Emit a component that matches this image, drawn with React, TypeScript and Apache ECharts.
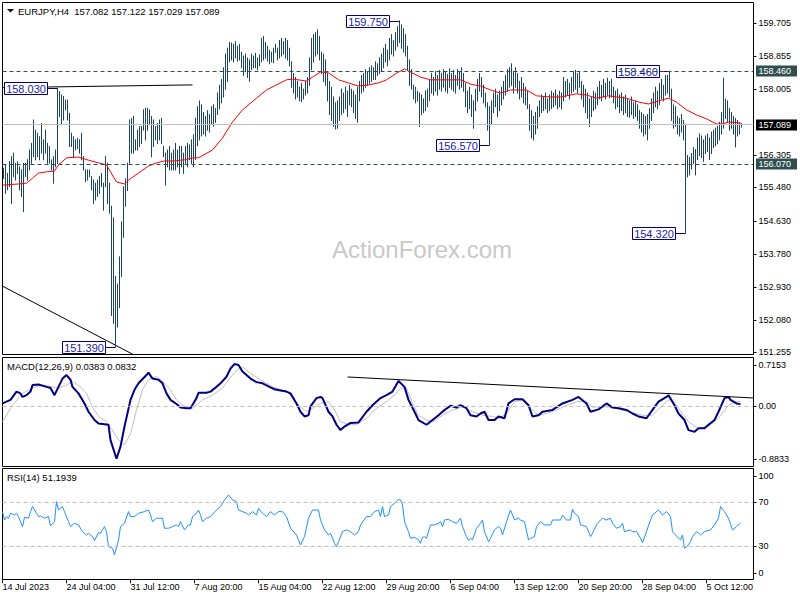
import React, { useEffect, useRef } from "react";
import * as echarts from "echarts";

const FONT = 'Tahoma, "Liberation Sans", Arial, sans-serif';
const BAR_COLOR = "#1b4560";

// ---- price bars (H4) ----
const highs = [
  155.97,156.06,155.84,156.14,156.27,156.36,156.10,156.14,156.01,155.93,
  156.10,156.10,156.19,156.44,156.61,157.21,156.95,156.87,156.78,157.12,
  156.70,156.95,156.61,156.53,156.19,156.27,156.44,158.03,157.94,157.85,
  157.81,157.72,157.72,157.38,156.87,156.78,156.70,156.74,156.70,156.87,
  156.27,155.93,155.93,155.93,155.76,155.67,155.59,155.67,155.76,155.84,
  155.59,156.27,156.10,155.59,155.00,154.70,153.20,153.00,153.70,154.60,
  155.50,155.70,156.10,157.21,157.25,157.30,156.70,156.95,157.04,157.04,
  157.47,157.51,157.51,157.47,157.30,157.21,157.04,157.12,157.21,157.25,
  156.53,156.36,156.44,156.53,156.36,156.44,156.61,156.44,156.53,156.53,
  156.36,156.53,156.61,156.57,156.70,156.83,157.25,157.55,157.70,157.60,
  157.40,157.30,157.45,157.35,157.55,157.60,157.50,157.90,158.10,158.25,
  158.55,158.90,159.05,159.20,159.18,159.15,159.22,159.10,159.15,158.95,
  158.85,158.90,158.80,158.75,158.90,158.85,158.92,158.80,158.88,159.30,
  159.35,159.20,159.10,159.00,158.95,159.05,159.15,159.05,159.25,159.30,
  159.22,159.30,159.25,159.05,158.70,158.40,158.30,158.20,158.05,158.15,
  158.00,158.20,158.30,158.80,159.30,159.40,159.45,159.52,159.35,158.95,
  158.90,158.75,158.40,158.20,158.05,157.80,157.65,157.70,157.80,158.00,
  157.90,158.05,157.95,158.10,158.00,157.95,157.85,158.05,158.20,158.35,
  158.40,158.50,158.45,158.55,158.60,158.55,158.70,158.65,158.80,158.90,
  159.05,159.15,159.00,159.30,159.40,159.25,159.45,159.60,159.75,159.65,
  159.55,159.40,159.10,158.75,158.50,158.10,158.05,157.95,157.90,157.85,
  157.75,157.95,158.00,158.25,158.40,158.30,158.45,158.35,158.48,158.40,
  158.50,158.45,158.38,158.52,158.40,158.48,158.35,158.50,158.45,158.55,
  158.40,158.15,157.95,158.05,157.85,157.70,158.00,158.25,158.40,158.30,
  158.10,157.90,157.65,157.55,157.70,157.90,158.00,157.85,157.95,158.05,
  158.20,158.35,158.50,158.55,158.65,158.45,158.55,158.40,158.20,158.30,
  158.15,158.05,157.95,157.60,157.45,157.30,157.40,157.55,157.70,157.85,
  157.80,157.90,157.75,157.85,157.95,157.90,157.98,157.85,157.95,157.90,
  158.30,158.20,158.25,158.15,158.30,158.45,158.48,158.40,158.45,158.20,
  158.10,158.00,157.90,157.75,157.80,157.95,157.90,158.05,158.20,158.10,
  158.25,158.15,158.28,158.20,158.25,158.05,157.95,158.00,157.85,157.90,
  157.80,157.85,157.75,157.70,157.80,157.65,157.70,157.60,157.45,157.40,
  157.35,157.30,157.35,157.50,157.75,157.90,158.05,157.95,158.15,158.25,
  158.10,158.35,158.35,158.46,158.00,157.60,157.55,157.30,157.25,157.35,
  157.20,157.10,156.30,156.25,156.35,156.50,156.45,156.75,156.85,156.80,
  156.70,156.80,156.85,156.75,156.90,156.95,157.00,157.05,157.15,157.40,
  158.28,157.75,157.70,157.50,157.40,157.30,157.25,157.20,157.15,157.12,
];
const lows = [
  155.71,155.33,155.42,155.50,155.07,155.76,155.67,155.84,155.42,155.25,
  154.86,155.76,155.67,155.93,156.10,156.27,156.19,156.27,156.19,156.36,
  156.19,156.36,156.10,156.10,155.93,155.59,156.01,156.10,157.30,157.12,
  157.21,157.47,157.21,156.53,156.53,156.27,156.44,156.48,156.36,156.19,
  155.93,155.63,155.67,155.76,155.42,155.07,155.16,155.25,155.33,155.50,
  154.90,155.50,155.07,154.82,152.20,152.00,151.39,151.90,152.40,153.20,
  154.20,155.00,155.40,156.10,156.36,156.36,156.44,156.44,156.53,156.61,
  156.95,156.70,156.95,157.12,156.27,156.53,156.70,156.61,156.70,156.61,
  156.27,155.54,156.01,155.93,155.93,155.93,155.93,156.01,155.84,156.01,
  155.84,156.10,156.01,156.19,156.10,156.01,156.20,156.55,156.70,156.80,
  156.85,156.80,156.95,156.90,157.10,157.05,157.15,157.35,157.50,157.65,
  157.80,158.00,158.20,158.70,158.75,158.70,158.80,158.72,158.75,158.55,
  158.35,158.45,158.30,158.20,158.50,158.55,158.55,158.50,158.60,158.70,
  158.75,158.80,158.72,158.65,158.70,158.68,158.95,158.75,158.80,158.85,
  158.90,158.80,158.75,158.60,158.05,157.90,157.75,157.80,157.70,157.68,
  157.75,157.85,157.90,158.10,158.50,158.70,158.85,158.90,158.75,158.40,
  158.20,158.10,157.70,157.35,157.20,157.05,156.98,157.00,157.20,157.35,
  157.40,157.50,157.30,157.60,157.55,157.40,157.25,157.15,157.70,157.90,
  157.95,158.05,158.10,158.15,158.20,158.25,158.25,158.35,158.40,158.45,
  158.55,158.70,158.60,158.75,158.90,158.85,159.00,159.10,159.20,159.05,
  158.95,158.85,158.50,158.10,158.00,157.75,157.65,157.70,157.05,157.35,
  157.40,157.45,157.55,157.70,157.90,157.85,157.95,157.85,158.00,157.95,
  158.05,157.95,157.90,158.05,158.00,157.95,157.90,158.10,158.00,158.05,
  157.95,157.55,157.40,157.50,157.30,157.00,157.45,157.70,157.95,157.80,
  157.65,157.55,156.95,156.57,157.10,157.40,157.55,157.30,157.45,157.60,
  157.75,157.85,157.95,158.05,158.10,157.90,158.05,157.90,157.75,157.80,
  157.65,157.60,157.50,156.95,156.75,156.70,156.85,157.00,157.30,157.40,
  157.45,157.50,157.40,157.45,157.50,157.55,157.60,157.50,157.55,157.50,
  157.70,157.80,157.85,157.75,157.90,157.95,158.00,157.90,158.05,157.75,
  157.55,157.40,157.25,157.05,157.30,157.45,157.50,157.60,157.75,157.70,
  157.80,157.75,157.85,157.78,157.80,157.65,157.50,157.55,157.40,157.45,
  157.35,157.40,157.30,157.28,157.35,157.25,157.30,157.20,157.00,156.90,
  156.80,156.85,156.70,157.00,157.20,157.40,157.55,157.50,157.60,157.75,
  157.70,157.85,157.90,157.80,157.20,157.00,157.05,156.85,156.80,156.90,
  156.70,154.32,155.75,155.80,155.95,156.10,155.80,156.20,156.30,156.25,
  156.15,156.35,156.40,156.20,156.35,156.50,156.55,156.60,156.70,156.85,
  157.00,157.25,157.15,156.95,157.00,156.85,156.52,156.80,156.85,157.03,
];

// moving average (red), [bar index, price]
const maPoints = [
  [0,155.54],[8,155.57],[12,155.59],[15,155.72],[18,155.85],[22,155.88],[26,155.90],[28,156.06],[32,156.24],[38,156.26],
  [43,156.18],[48,156.11],[52,156.06],[54,155.88],[57,155.62],[61,155.57],[63,155.67],[68,155.85],[73,156.03],[77,156.11],
  [81,156.16],[86,156.16],[91,156.19],[95,156.24],[98,156.24],[105,156.44],[110,156.75],[115,157.16],[120,157.47],[127,157.77],
  [132,157.98],[137,158.11],[142,158.24],[145,158.26],[152,158.21],[155,158.31],[159,158.44],[163,158.42],[168,158.24],[173,158.16],
  [178,158.08],[183,158.11],[188,158.16],[192,158.24],[197,158.41],[201,158.52],[204,158.44],[209,158.31],[214,158.24],[219,158.24],
  [224,158.24],[229,158.24],[234,158.13],[239,158.08],[244,157.98],[249,157.90],[254,157.98],[259,157.98],[262,157.98],[267,157.83],
  [274,157.80],[279,157.80],[287,157.88],[292,157.85],[297,157.77],[303,157.83],[312,157.77],[318,157.67],[323,157.62],[328,157.70],
  [333,157.77],[337,157.67],[342,157.47],[347,157.34],[352,157.24],[357,157.11],[360,157.11],[363,157.16],[369,157.13],
];

// MACD(12,26,9): main line and signal, [bar index, value]
const macdPoints = [
  [0,0.05],[4,0.11],[7,0.25],[9,0.22],[10,0.16],[12,0.19],[14,0.25],[15,0.36],[18,0.37],[22,0.33],[24,0.31],[26,0.19],
  [28,0.33],[30,0.47],[32,0.53],[34,0.45],[35,0.33],[38,0.22],[41,0.05],[43,-0.09],[46,-0.23],[48,-0.29],[51,-0.30],[53,-0.31],
  [54,-0.57],[57,-0.8833],[59,-0.68],[61,-0.34],[64,0.11],[66,0.28],[68,0.39],[72,0.53],[73,0.57],[75,0.47],[78,0.45],[80,0.39],
  [82,0.22],[84,0.11],[87,0.04],[89,-0.02],[92,-0.03],[94,-0.03],[97,0.14],[98,0.23],[102,0.23],[104,0.25],[107,0.33],[109,0.39],
  [112,0.50],[114,0.64],[116,0.7153],[118,0.70],[120,0.59],[124,0.47],[127,0.41],[130,0.39],[134,0.32],[136,0.29],[139,0.27],[142,0.25],
  [144,0.22],[147,0.05],[149,-0.09],[151,-0.17],[153,-0.15],[154,0.00],[157,0.14],[159,0.16],[160,0.14],[163,-0.09],[165,-0.17],[167,-0.31],
  [169,-0.40],[171,-0.34],[174,-0.28],[178,-0.27],[182,-0.09],[185,0.02],[189,0.14],[192,0.19],[195,0.25],[198,0.43],[201,0.33],[203,0.11],
  [206,-0.09],[208,-0.23],[212,-0.31],[215,-0.23],[218,-0.15],[221,-0.06],[224,0.01],[227,-0.02],[229,0.02],[232,-0.03],[234,-0.15],[237,-0.17],
  [239,-0.12],[241,-0.09],[243,-0.23],[246,-0.23],[248,-0.17],[251,-0.20],[253,0.05],[256,0.12],[260,0.12],[263,0.02],[265,-0.17],[268,-0.15],
  [270,-0.09],[275,-0.06],[280,0.05],[285,0.11],[288,0.16],[292,0.05],[294,-0.09],[298,-0.05],[302,0.05],[305,-0.02],[308,-0.03],[312,-0.06],
  [315,-0.12],[318,-0.17],[322,-0.20],[325,-0.06],[328,0.08],[332,0.16],[333,0.19],[336,0.02],[338,-0.12],[341,-0.23],[343,-0.40],[346,-0.43],
  [348,-0.37],[351,-0.37],[353,-0.31],[356,-0.23],[358,-0.09],[361,0.14],[363,0.16],[364,0.11],[367,0.05],[369,0.0383],
];
const signalPoints = [
  [0,-0.26],[5,0.02],[10,0.22],[15,0.31],[20,0.36],[25,0.33],[28,0.31],[32,0.36],[35,0.42],[38,0.36],[42,0.22],[45,-0.01],
  [48,-0.17],[52,-0.26],[55,-0.40],[58,-0.57],[61,-0.65],[64,-0.46],[67,-0.06],[70,0.28],[73,0.45],[77,0.51],[80,0.42],[84,0.28],
  [87,0.11],[90,0.02],[95,-0.03],[100,0.11],[105,0.19],[110,0.31],[115,0.53],[118,0.64],[120,0.67],[124,0.56],[129,0.45],[135,0.33],
  [142,0.25],[145,0.16],[148,0.02],[152,-0.09],[155,-0.03],[159,0.05],[163,0.08],[166,-0.06],[169,-0.26],[173,-0.31],[177,-0.31],[182,-0.20],
  [187,-0.03],[192,0.08],[197,0.22],[199,0.31],[202,0.31],[205,0.05],[208,-0.15],[212,-0.23],[215,-0.26],[220,-0.15],[225,-0.06],[230,-0.01],
  [235,-0.09],[240,-0.15],[245,-0.17],[248,-0.20],[252,-0.12],[256,0.08],[260,0.11],[264,-0.03],[268,-0.15],[272,-0.12],[277,-0.06],[282,0.02],
  [287,0.08],[292,0.08],[295,-0.01],[300,-0.01],[305,-0.01],[310,-0.06],[315,-0.11],[320,-0.15],[325,-0.15],[330,0.02],[333,0.11],[335,0.11],
  [338,-0.03],[343,-0.26],[348,-0.37],[353,-0.34],[358,-0.20],[363,0.02],[367,0.08],[369,0.0832],
];

// RSI(14), [bar index, value]
const rsiPoints = [
  [0,61.5],[1,53.9],[2,57],[3,55.5],[4,60],[6,58.5],[7,60],[8,57],[9,52.4],[10,47.9],[11,56.4],[13,55.5],[14,61.5],[15,66.1],
  [17,60],[18,57],[19,57.6],[21,55.5],[23,57],[24,48.5],[26,52.4],[27,70.6],[28,63],[30,66.1],[31,61.5],[33,52.4],[34,47.9],[36,50.9],
  [38,49.4],[40,43.3],[42,40.3],[43,41.8],[45,38.8],[46,35.2],[48,42.4],[49,41.8],[51,47.9],[52,43.3],[53,29.7],[55,28.2],[56,22.1],[58,35.8],
  [59,47.9],[61,50.9],[63,61.5],[64,57],[66,57],[68,60],[71,61.5],[73,63],[74,58.5],[75,52.4],[77,55.5],[80,55.5],[81,46.4],[83,46.4],
  [85,47.9],[87,49.4],[88,47.9],[89,52.4],[91,44.9],[93,49.4],[94,49.4],[95,57],[97,60],[98,63],[99,58.5],[100,52.4],[102,55.5],[104,57],
  [107,63],[109,66.1],[111,72.1],[113,76.7],[115,72.1],[117,70.6],[118,63],[122,60],[123,58.5],[125,61.5],[127,58.5],[128,64.5],[130,60],[132,57],
  [134,61.5],[136,58.5],[138,61.5],[140,61.5],[142,57],[144,46.4],[147,40.3],[149,31.2],[151,38.8],[153,55.5],[155,63],[158,63],[159,54],[161,44.9],
  [163,40.3],[164,41.8],[166,32.7],[167,29.7],[168,34.2],[170,43.3],[172,44.9],[174,43.3],[176,40.3],[178,43.3],[179,49.4],[182,57],[184,57],[186,61.5],
  [188,63],[189,57],[190,66.1],[191,57],[193,58.5],[194,66.1],[197,70.6],[198,72.7],[199,72.1],[200,67.6],[201,52.4],[203,43.3],[204,37.3],[206,38.2],
  [208,35.8],[209,32.7],[210,38.2],[211,38.8],[212,37.3],[214,49.4],[216,49.4],[218,50.9],[219,52.4],[220,47.9],[221,53.9],[223,54.5],[225,52.4],[227,50.9],
  [229,55.5],[230,47.9],[232,38.8],[233,35.2],[234,37.3],[235,35.8],[237,46.4],[239,50.9],[240,53.9],[241,43.3],[243,34.2],[244,37.3],[246,44.9],[248,47.9],
  [249,46.4],[250,40.3],[252,52.4],[254,63],[255,58.5],[256,53.9],[258,55.5],[259,53.9],[261,52.4],[263,35.8],[264,37.3],[266,38.8],[267,47.9],[269,52.4],
  [271,49.4],[274,49.4],[275,53.9],[279,53.9],[280,58.5],[282,53.9],[284,53.9],[285,63.6],[286,60],[288,57],[289,49.4],[292,47.9],[294,38.8],[295,41.8],
  [297,49.4],[299,53.9],[300,55.5],[302,53.9],[304,55.5],[305,50.9],[307,46.4],[309,47.9],[310,50.9],[311,43.3],[314,44.9],[315,43.3],[317,43.3],[319,37.3],
  [320,33.3],[322,43.3],[324,53.9],[325,58.5],[328,63],[330,58.5],[332,61.5],[334,57],[335,43.3],[338,37.3],[339,35.8],[340,40.3],[341,28.2],[343,31.2],
  [344,34.2],[345,38.8],[347,43.3],[348,41.8],[349,40.3],[351,43.3],[354,44.9],[356,49.4],[358,55.5],[359,66.1],[361,61.5],[363,55.5],[365,44.9],[367,47.9],
  [369,51.1939],
];

// axis ticks and labels (157.155 lies hidden behind the bid label in the reference)
const priceTicks = [159.705, 158.855, 158.005, 156.305, 155.48, 154.63, 153.78, 152.93, 152.08, 151.255];
const macdTicks = [0.7153, 0, -0.8833];
const macdTickLabels = ["0.7153", "0.00", "-0.8833"];
const rsiTicks = [100, 70, 30, 0];
const xTickLabels = [
  "14 Jul 2023", "24 Jul 04:00", "31 Jul 12:00", "7 Aug 20:00", "15 Aug 04:00", "22 Aug 12:00",
  "29 Aug 20:00", "6 Sep 04:00", "13 Sep 12:00", "20 Sep 20:00", "28 Sep 04:00", "5 Oct 12:00",
];

// levels, highlighted scale labels, swing annotations, trend lines
const dashedLevels = [158.46, 156.07];
const bidPrice = 157.089;
const hlPrices = [158.46, 157.089, 156.07];
const hlColors = ["#2f4f4f", "#000000", "#2f4f4f"];
const annBars = [27, 198, 243, 333, 341, 56];
const annPrices = [158.03, 159.75, 156.57, 158.46, 154.32, 151.39];
const flatLine = [[0, 158.04], [95, 158.11]];
const downLine = [[0, 152.95], [66, 151.18]];
const macdTrend = [[172.5, 0.497], [375.5, 0.142]];
const header = "EURJPY,H4  157.082 157.122 157.029 157.089";

function scaleSeries(g: number, vals: number[], texts: string[], clamp: number) {
  return {
    type: "custom",
    xAxisIndex: g,
    yAxisIndex: g,
    silent: true,
    clip: false,
    z: 6,
    data: vals.map((v, k) => [0, v, k]),
    renderItem: (params: any, api: any) => {
      const cs = params.coordSys;
      const p = api.coord([0, api.value(1)]);
      const right = cs.x + cs.width;
      const ty = Math.max(cs.y + clamp, Math.min(cs.y + cs.height - clamp, p[1]));
      const ly = Math.round(ty) + 0.5;
      return {
        type: "group",
        children: [
          { type: "line", shape: { x1: right, y1: ly, x2: right + 3, y2: ly }, style: { stroke: "#000", lineWidth: 1 } },
          {
            type: "text",
            x: right + 5,
            y: ty,
            style: { text: texts[api.value(2)], fill: "#000", font: `9px ${FONT}`, textAlign: "left", textVerticalAlign: "middle" },
          },
        ],
      };
    },
  };
}

function buildOption(): any {
  const xBase = { type: "value", min: 0, max: 375.5 };
  const gridBase = {
    left: 2.5, width: 751, show: true, borderColor: "#000", borderWidth: 1,
    backgroundColor: "transparent", containLabel: false, outerBoundsMode: "none",
  };
  const markNone = { silent: true, symbol: ["none", "none"], label: { show: false }, animation: false };
  return {
    animation: false,
    backgroundColor: "#fff",
    grid: [
      { ...gridBase, top: 2.5, height: 352 },
      { ...gridBase, top: 357.5, height: 109 },
      { ...gridBase, top: 468.5, height: 111 },
    ],
    xAxis: [
      { ...xBase, gridIndex: 0, show: false },
      { ...xBase, gridIndex: 1, show: false },
      {
        ...xBase, gridIndex: 2, interval: 32,
        axisLine: { show: false },
        splitLine: { show: false },
        axisTick: { show: true, length: 4, lineStyle: { color: "#000" } },
        axisLabel: {
          formatter: (v: number) => (v % 32 === 0 && v / 32 < xTickLabels.length ? xTickLabels[v / 32] : ""),
          align: "left", margin: 3, fontSize: 9, fontFamily: FONT, color: "#000",
          showMaxLabel: false, hideOverlap: false,
        },
      },
    ],
    yAxis: [
      { type: "value", gridIndex: 0, min: 151.197, max: 160.223, show: false },
      { type: "value", gridIndex: 1, min: -1.015, max: 0.826, show: false },
      { type: "value", gridIndex: 2, min: -0.2, max: 100.7, show: false },
    ],
    graphic: [
      { type: "polygon", shape: { points: [[7, 9], [14, 9], [10.5, 12.5]] }, style: { fill: "#000" } },
      { type: "text", x: 18, y: 11, style: { text: header, fill: "#000", font: `9.5px ${FONT}`, textVerticalAlign: "middle" } },
      {
        type: "text", x: 422, y: 249, z: -10,
        style: { text: "ActionForex.com", fill: "#c8c8c8", font: `24px "Liberation Sans", Arial, sans-serif`, textAlign: "center", textVerticalAlign: "middle" },
      },
      { type: "text", x: 7, y: 366.5, style: { text: "MACD(12,26,9) 0.0383 0.0832", fill: "#000", font: `9.5px ${FONT}`, textVerticalAlign: "middle" } },
      { type: "text", x: 7, y: 477.5, style: { text: "RSI(14) 51.1939", fill: "#000", font: `9.5px ${FONT}`, textVerticalAlign: "middle" } },
    ],
    series: [
      {
        type: "line", xAxisIndex: 0, yAxisIndex: 0, data: flatLine, symbol: "none", z: 1, silent: true,
        lineStyle: { color: "#000", width: 1 },
        markLine: {
          ...markNone,
          data: [
            ...dashedLevels.map((v) => ({ yAxis: v, lineStyle: { color: "#2f4f4f", type: [4, 3], width: 1 } })),
            { yAxis: bidPrice, lineStyle: { color: "#c0c0c0", type: "solid", width: 1 } },
          ],
        },
      },
      {
        type: "line", xAxisIndex: 0, yAxisIndex: 0, data: downLine, symbol: "none", z: 1, silent: true,
        lineStyle: { color: "#000", width: 1 },
      },
      {
        type: "custom", xAxisIndex: 0, yAxisIndex: 0, z: 2, silent: true,
        data: highs.map((h, i) => [i, h, lows[i]]),
        encode: { x: 0, y: [1, 2] },
        renderItem: (params: any, api: any) => {
          const top = api.coord([api.value(0), api.value(1)]);
          const bot = api.coord([api.value(0), api.value(2)]);
          const x = Math.round(top[0]) + 0.5;
          return {
            type: "line",
            shape: { x1: x, y1: top[1] - 0.5, x2: x, y2: bot[1] + 0.5 },
            style: { stroke: BAR_COLOR, lineWidth: 1 },
          };
        },
      },
      {
        type: "line", xAxisIndex: 0, yAxisIndex: 0, data: maPoints, symbol: "none", z: 3, silent: true,
        lineStyle: { color: "#ff0000", width: 1 },
      },
      {
        type: "custom", xAxisIndex: 0, yAxisIndex: 0, z: 4, silent: true, clip: false,
        data: annBars.map((b, k) => [b, annPrices[k], k]),
        renderItem: (params: any, api: any) => {
          const p = api.coord([api.value(0), api.value(1)]);
          const bx = Math.round(p[0]);
          const by = Math.round(p[1]);
          const k = api.value(2);
          return {
            type: "group",
            children: [
              { type: "line", shape: { x1: bx - 9.5, y1: by + 0.5, x2: bx + 0.5, y2: by + 0.5 }, style: { stroke: "#000080", lineWidth: 1 } },
              { type: "rect", shape: { x: bx - 52.5, y: by - 5.5, width: 43, height: 12 }, style: { fill: "#fff", stroke: "#000080", lineWidth: 1 } },
              {
                type: "text", x: bx - 31, y: by + 0.5,
                style: { text: annPrices[k].toFixed(3), fill: "#1c1ca8", font: `11px ${FONT}`, textAlign: "center", textVerticalAlign: "middle" },
              },
            ],
          };
        },
      },
      scaleSeries(0, priceTicks, priceTicks.map((v) => v.toFixed(3)), 0),
      {
        type: "custom", xAxisIndex: 0, yAxisIndex: 0, z: 7, silent: true, clip: false,
        data: hlPrices.map((v, k) => [0, v, k]),
        renderItem: (params: any, api: any) => {
          const cs = params.coordSys;
          const p = api.coord([0, api.value(1)]);
          const k = api.value(2);
          const right = cs.x + cs.width;
          const y = Math.round(p[1]);
          return {
            type: "group",
            children: [
              { type: "rect", shape: { x: right + 2.5, y: y - 5.5, width: 41, height: 11 }, style: { fill: hlColors[k] } },
              {
                type: "text", x: right + 5, y: y,
                style: { text: hlPrices[k].toFixed(3), fill: "#fff", font: `9px ${FONT}`, textAlign: "left", textVerticalAlign: "middle" },
              },
            ],
          };
        },
      },
      {
        type: "line", xAxisIndex: 1, yAxisIndex: 1, data: signalPoints, symbol: "none", z: 2, silent: true,
        lineStyle: { color: "#c0c0c0", width: 1 },
        markLine: { ...markNone, data: [{ yAxis: 0, lineStyle: { color: "#c0c0c0", type: [4, 3], width: 1 } }] },
      },
      {
        type: "line", xAxisIndex: 1, yAxisIndex: 1, data: macdPoints, symbol: "none", z: 3, silent: true,
        lineStyle: { color: "#000080", width: 2 },
      },
      {
        type: "line", xAxisIndex: 1, yAxisIndex: 1, data: macdTrend, symbol: "none", z: 4, silent: true,
        lineStyle: { color: "#000", width: 1 },
      },
      scaleSeries(1, macdTicks, macdTickLabels, 7),
      {
        type: "line", xAxisIndex: 2, yAxisIndex: 2, data: rsiPoints, symbol: "none", z: 3, silent: true,
        lineStyle: { color: "#1e90ff", width: 1 },
        markLine: {
          ...markNone,
          data: [70, 30].map((v) => ({ yAxis: v, lineStyle: { color: "#c0c0c0", type: [4, 3], width: 1 } })),
        },
      },
      scaleSeries(2, rsiTicks, rsiTicks.map((v) => String(v)), 7),
    ],
  };
}

export default function App() {
  const ref = useRef<HTMLDivElement>(null);
  useEffect(() => {
    if (!ref.current) return;
    const chart = echarts.init(ref.current, null, { renderer: "svg" });
    chart.setOption(buildOption());
    return () => chart.dispose();
  }, []);
  return (
    <div
      ref={ref}
      style={{ position: "fixed", left: 0, top: 0, width: 800, height: 600, background: "#fff" }}
    />
  );
}
